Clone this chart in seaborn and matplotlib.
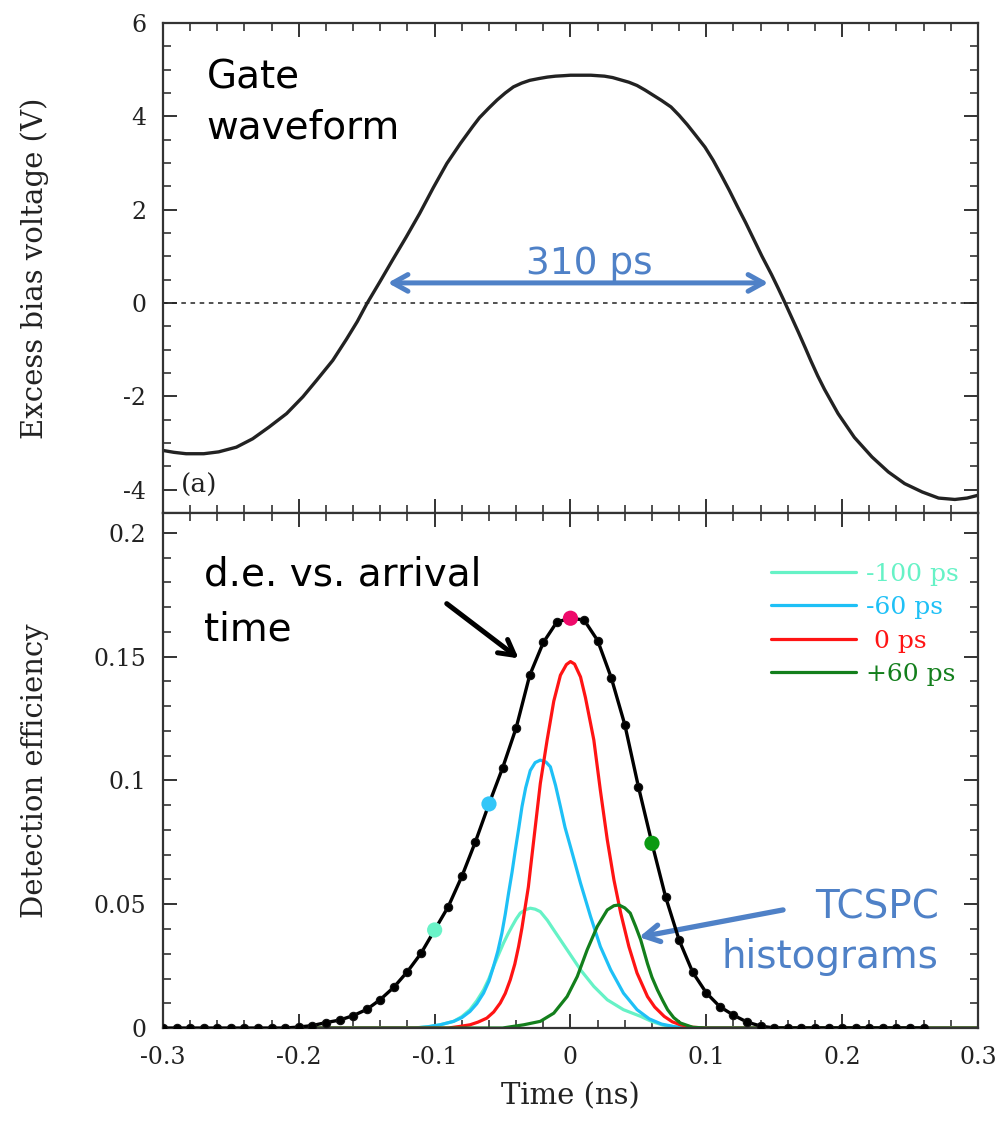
import matplotlib
matplotlib.use("Agg")
import matplotlib.pyplot as plt
from matplotlib.ticker import MultipleLocator, FuncFormatter
import seaborn as sns

# ---- gate waveform (excess bias vs time) ----
gate_time = [-0.300, -0.292, -0.283, -0.270, -0.259, -0.246, -0.234, -0.222, -0.209, -0.197,
             -0.187, -0.175, -0.165, -0.157, -0.150, -0.140, -0.131, -0.121, -0.111, -0.101,
             -0.091, -0.081, -0.072, -0.067, -0.060, -0.054, -0.048, -0.042, -0.036, -0.030,
             -0.023, -0.017, -0.011, -0.005, 0.000, 0.007, 0.015, 0.025, 0.031, 0.037,
             0.043, 0.049, 0.055, 0.061, 0.067, 0.074, 0.080, 0.086, 0.092, 0.099,
             0.105, 0.111, 0.117, 0.123, 0.129, 0.135, 0.141, 0.148, 0.153, 0.158,
             0.163, 0.168, 0.173, 0.177, 0.182, 0.187, 0.197, 0.209, 0.222, 0.234, 0.246,
             0.259, 0.271, 0.283, 0.292, 0.300]
gate_voltage = [-3.16, -3.20, -3.23, -3.23, -3.19, -3.09, -2.91, -2.66, -2.37, -2.01,
                -1.66, -1.23, -0.78, -0.40, -0.02, 0.47, 0.92, 1.41, 1.92, 2.47,
                2.99, 3.42, 3.78, 3.97, 4.18, 4.35, 4.50, 4.63, 4.71, 4.77,
                4.81, 4.84, 4.86, 4.87, 4.88, 4.88, 4.88, 4.86, 4.83, 4.78,
                4.73, 4.66, 4.56, 4.45, 4.34, 4.20, 4.02, 3.82, 3.60, 3.34,
                3.06, 2.74, 2.41, 2.06, 1.72, 1.36, 1.00, 0.61, 0.31, 0.00,
                -0.32, -0.64, -0.97, -1.24, -1.56, -1.85, -2.37, -2.88, -3.30, -3.62, -3.87,
                -4.05, -4.18, -4.21, -4.18, -4.12]

# ---- detection efficiency vs photon arrival time ----
arrival_time = [-0.30, -0.29, -0.28, -0.27, -0.26, -0.25, -0.24, -0.23, -0.22, -0.21,
                -0.20, -0.19, -0.18, -0.17, -0.16, -0.15, -0.14, -0.13, -0.12, -0.11,
                -0.10, -0.09, -0.08, -0.07, -0.06, -0.05, -0.04, -0.03, -0.02, -0.01,
                0.00, 0.01, 0.02, 0.03, 0.04, 0.05, 0.06, 0.07, 0.08, 0.09,
                0.10, 0.11, 0.12, 0.13, 0.14, 0.15, 0.16, 0.17, 0.18, 0.19,
                0.20, 0.21, 0.22, 0.23, 0.24, 0.25, 0.26]
detection_eff = [0, 0, 0, 0, 0, 0, 0, 0, 0, 0,
                 0.0004, 0.0010, 0.0022, 0.0032, 0.0050, 0.0075, 0.0115, 0.0165, 0.0228, 0.0302,
                 0.0396, 0.0490, 0.0612, 0.0752, 0.0905, 0.1050, 0.1212, 0.1425, 0.1557, 0.1640,
                 0.1655, 0.1648, 0.1565, 0.1415, 0.1225, 0.0975, 0.0746, 0.0530, 0.0355, 0.0225,
                 0.0142, 0.0086, 0.0052, 0.0024, 0.0008, 0, 0, 0, 0, 0,
                 0, 0, 0, 0, 0, 0, 0]

# highlighted delays on the d.e. curve
delay_time = [-0.10, -0.06, 0.00, 0.06]
delay_eff = [0.0396, 0.0905, 0.1655, 0.0746]
delay_colors = ["#6AF3C8", "#33C6F8", "#EE0A6A", "#0B9A12"]

# ---- TCSPC histograms for each delay ----
hist_labels = ["-100 ps", "-60 ps", " 0 ps", "+60 ps"]
hist_colors = ["#66F2C6", "#1EC0F6", "#FF1414", "#137F1C"]

m100_time = [-0.200, -0.115, -0.105, -0.096, -0.086, -0.080, -0.074, -0.069, -0.064, -0.060,
             -0.0567, -0.053, -0.0493, -0.046, -0.0431, -0.040, -0.037, -0.033, -0.0296, -0.026,
             -0.0222, -0.017, -0.0123, -0.0025, 0.0074, 0.0172, 0.0271, 0.039, 0.0517, 0.060,
             0.068, 0.078, 0.090, 0.300]
m100_eff = [0, 0, 0.0005, 0.0013, 0.0027, 0.0046, 0.0074, 0.0110, 0.0154, 0.0200,
            0.0248, 0.0296, 0.0343, 0.0380, 0.0410, 0.0440, 0.0464, 0.0478, 0.0484, 0.0480,
            0.0470, 0.0435, 0.0396, 0.0316, 0.0235, 0.0168, 0.0114, 0.0074, 0.0047, 0.0026,
            0.0012, 0.0004, 0, 0]

m60_time = [-0.200, -0.115, -0.105, -0.096, -0.086, -0.080, -0.074, -0.069, -0.064, -0.060,
            -0.0567, -0.0535, -0.0505, -0.048, -0.0456, -0.043, -0.0406, -0.038, -0.0357, -0.033,
            -0.0296, -0.026, -0.0222, -0.018, -0.0148, -0.011, -0.0074, -0.004, 0.000, 0.0074,
            0.0148, 0.022, 0.0296, 0.039, 0.049, 0.058, 0.067, 0.077, 0.088, 0.300]
m60_eff = [0, 0, 0.0005, 0.0013, 0.0027, 0.0042, 0.0067, 0.0098, 0.0141, 0.0190,
           0.0248, 0.0310, 0.0383, 0.0460, 0.0544, 0.0630, 0.0719, 0.0810, 0.0894, 0.0970,
           0.1040, 0.1072, 0.1082, 0.1074, 0.1055, 0.0980, 0.0894, 0.0810, 0.0732, 0.0585,
           0.0450, 0.0329, 0.0235, 0.0141, 0.0074, 0.0037, 0.0016, 0.0005, 0, 0]

p0_time = [-0.200, -0.090, -0.082, -0.074, -0.068, -0.0616, -0.0565, -0.0517, -0.048, -0.0443,
           -0.041, -0.0382, -0.0357, -0.0333, -0.031, -0.0296, -0.0259, -0.0222, -0.0172, -0.0123,
           -0.0074, -0.003, 0.000, 0.003, 0.0074, 0.011, 0.0148, 0.0172, 0.022, 0.0271,
           0.032, 0.037, 0.043, 0.049, 0.0567, 0.062, 0.069, 0.075, 0.081, 0.090,
           0.100, 0.300]
p0_eff = [0, 0, 0.0006, 0.0013, 0.0024, 0.0040, 0.0065, 0.0101, 0.0140, 0.0195,
          0.0258, 0.0329, 0.0405, 0.0490, 0.0570, 0.0638, 0.0813, 0.0988, 0.1163, 0.1320,
          0.1425, 0.1468, 0.1480, 0.1470, 0.1418, 0.1335, 0.1230, 0.1163, 0.0960, 0.0760,
          0.0598, 0.0464, 0.0329, 0.0222, 0.0127, 0.0085, 0.0047, 0.0025, 0.0013, 0.0003,
          0, 0]

p60_time = [-0.200, -0.050, -0.0345, -0.0222, -0.0123, -0.0025, 0.005, 0.0123, 0.0197, 0.0271,
            0.032, 0.0357, 0.040, 0.044, 0.048, 0.0517, 0.0567, 0.060, 0.064, 0.068,
            0.0715, 0.076, 0.081, 0.090, 0.100, 0.300]
p60_eff = [0, 0, 0.0013, 0.0027, 0.0060, 0.0127, 0.0208, 0.0316, 0.0410, 0.0477,
           0.0494, 0.0497, 0.0485, 0.0464, 0.0410, 0.0356, 0.0260, 0.0205, 0.0154, 0.0110,
           0.0074, 0.0042, 0.0020, 0.0003, 0, 0]

hist_series = [(m100_time, m100_eff), (m60_time, m60_eff), (p0_time, p0_eff), (p60_time, p60_eff)]

# ---- style ----
sns.set_theme(style="ticks", rc={
    "axes.unicode_minus": False,
    "axes.linewidth": 1.6,
    "axes.edgecolor": "#333333",
    "xtick.direction": "in", "ytick.direction": "in",
    "xtick.top": True, "ytick.right": True,
    "xtick.major.size": 10, "ytick.major.size": 10,
    "xtick.minor.size": 6, "ytick.minor.size": 6,
    "xtick.major.width": 1.4, "ytick.major.width": 1.4,
    "xtick.minor.width": 1.2, "ytick.minor.width": 1.2,
    "xtick.color": "#333333", "ytick.color": "#333333",
    "xtick.labelcolor": "#222222", "ytick.labelcolor": "#222222",
    "xtick.major.pad": 13, "ytick.major.pad": 12,
    "lines.solid_joinstyle": "round",
})
plt.rcParams["font.family"] = ["DejaVu Serif"]

SERIF = ["DejaVu Serif"]
HAND = ["DejaVu Sans"]
BLUE = "#4F81C7"

fig = plt.figure(figsize=(10.08, 11.25), dpi=100)
ax1 = fig.add_axes([0.1617, 0.544, 0.8085, 0.4356])
ax2 = fig.add_axes([0.1617, 0.0862, 0.8085, 0.4578], sharex=ax1)

fmt = FuncFormatter(lambda v, p: "0" if abs(v) < 1e-9 else f"{v:g}")

# ---- panel (a): gate waveform ----
sns.lineplot(x=gate_time, y=gate_voltage, ax=ax1, color="#222222", linewidth=2.4, sort=False)
ax1.axhline(0, color="#222222", linewidth=1.1, linestyle=(0, (3, 3)))
ax1.set_xlim(-0.3, 0.3)
ax1.set_ylim(-4.5, 6)
ax1.yaxis.set_major_locator(MultipleLocator(2))
ax1.yaxis.set_minor_locator(MultipleLocator(0.5))
ax1.xaxis.set_major_locator(MultipleLocator(0.1))
ax1.xaxis.set_minor_locator(MultipleLocator(0.02))
ax1.yaxis.set_major_formatter(fmt)
ax1.tick_params(axis="x", which="both", labelbottom=False)
ax1.tick_params(axis="y", labelsize=17)
ax1.set_ylabel("Excess bias voltage (V)", fontsize=21, color="#222222", family=SERIF)
ax1.yaxis.set_label_coords(-0.14, 0.5)

ax1.text(-0.268, 4.59, "Gate", fontsize=28, family=HAND, color="black")
ax1.text(-0.268, 3.52, "waveform", fontsize=28, family=HAND, color="black")
ax1.text(-0.287, -4.08, "(a)", fontsize=19, family=SERIF, color="#222222")

ax1.annotate("", xy=(-0.1345, 0.43), xytext=(0.1456, 0.43),
             arrowprops=dict(arrowstyle="<->,head_length=0.9,head_width=0.5",
                             color=BLUE, lw=3.6, shrinkA=0, shrinkB=0))
ax1.text(0.0137, 0.63, "310 ps", fontsize=27, family=HAND, color=BLUE, ha="center")

# ---- panel (b): detection efficiency and TCSPC histograms ----
for (t, e), lab, col in zip(hist_series, hist_labels, hist_colors):
    sns.lineplot(x=t, y=e, ax=ax2, color=col, linewidth=2.3, label=lab, sort=False)

sns.lineplot(x=arrival_time, y=detection_eff, ax=ax2, color="black", linewidth=2.4,
             marker="o", markersize=6, markeredgecolor="#111111", markeredgewidth=0.8,
             sort=False, zorder=5)
sns.scatterplot(x=delay_time, y=delay_eff, ax=ax2, hue=delay_time, palette=delay_colors,
                s=120, edgecolor="none", legend=False, zorder=6)

ax2.set_ylim(0, 0.208)
ax2.yaxis.set_major_locator(MultipleLocator(0.05))
ax2.yaxis.set_minor_locator(MultipleLocator(0.01))
ax2.xaxis.set_major_formatter(fmt)
ax2.yaxis.set_major_formatter(fmt)
ax2.tick_params(axis="both", labelsize=17)
ax2.set_xlabel("Time (ns)", fontsize=21, color="#222222", family=SERIF)
ax2.set_ylabel("Detection efficiency", fontsize=21, color="#222222", family=SERIF)
ax2.yaxis.set_label_coords(-0.14, 0.5)
ax2.xaxis.set_label_coords(0.5, -0.105)

handles, labels = ax2.get_legend_handles_labels()
leg = ax2.legend(handles[:4], labels[:4], loc="upper left", bbox_to_anchor=(0.731, 0.928),
                 frameon=False, handlelength=3.4, handletextpad=0.4,
                 labelspacing=0.42, borderpad=0, labelcolor="linecolor",
                 prop={"family": SERIF, "size": 18})

ax2.text(-0.2698, 0.1788, "d.e. vs. arrival", fontsize=28, family=HAND, color="black")
ax2.text(-0.2698, 0.1566, "time", fontsize=28, family=HAND, color="black")
ax2.annotate("", xy=(-0.0382, 0.1493), xytext=(-0.0911, 0.1714),
             arrowprops=dict(arrowstyle="->,head_length=0.9,head_width=0.5",
                             color="black", lw=3.6, shrinkA=0, shrinkB=0))

ax2.text(0.2712, 0.0444, "TCSPC", fontsize=28, family=HAND, color=BLUE, ha="right")
ax2.text(0.2712, 0.0242, "histograms", fontsize=28, family=HAND, color=BLUE, ha="right")
ax2.annotate("", xy=(0.0505, 0.0367), xytext=(0.1565, 0.0477),
             arrowprops=dict(arrowstyle="->,head_length=0.9,head_width=0.5",
                             color=BLUE, lw=3.8, shrinkA=0, shrinkB=0))

fig.savefig("out.png", dpi=100)
